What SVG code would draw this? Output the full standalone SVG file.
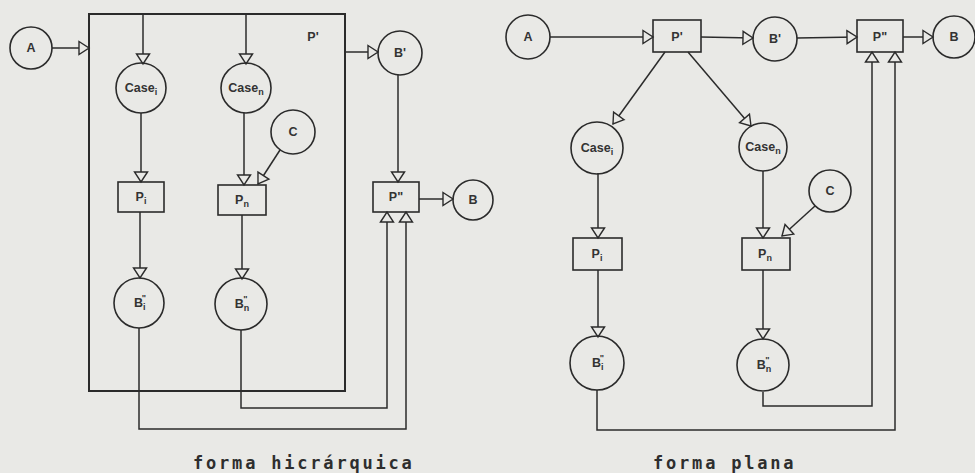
<svg xmlns="http://www.w3.org/2000/svg" width="975" height="473" viewBox="0 0 975 473">
<style>
.bg{fill:#e9e9e6}
.n{fill:none;stroke:#2b2b2b;stroke-width:1.6}
.box{fill:none;stroke:#2b2b2b;stroke-width:2}
.c{fill:none;stroke:#2b2b2b;stroke-width:1.5}
.t{font-family:"Liberation Sans",Arial,sans-serif;font-weight:bold;font-size:12.5px;fill:#333;text-anchor:middle}
.s{font-size:9px}
.cap{font-family:"DejaVu Sans Mono","Liberation Mono",monospace;font-weight:bold;font-size:17px;fill:#2e2e2e;letter-spacing:2.8px}
</style>
<defs>
<marker id="ah" viewBox="-1 -1 13 15" refX="10" refY="6.5" markerWidth="13" markerHeight="15" markerUnits="userSpaceOnUse" orient="auto" overflow="visible">
<path d="M0,0 L10,6.5 L0,13 Z" fill="#e9e9e6" stroke="#2b2b2b" stroke-width="1.4"/>
</marker>
</defs>
<rect class="bg" x="0" y="0" width="975" height="473"/>

<g id="connectors">
<!-- left diagram -->
<line class="c" x1="52" y1="48" x2="89" y2="48" marker-end="url(#ah)"/>
<line class="c" x1="143" y1="14" x2="143" y2="64" marker-end="url(#ah)"/>
<line class="c" x1="246" y1="14" x2="246" y2="64" marker-end="url(#ah)"/>
<line class="c" x1="141" y1="113" x2="141" y2="182" marker-end="url(#ah)"/>
<line class="c" x1="244" y1="113" x2="244" y2="185" marker-end="url(#ah)"/>
<line class="c" x1="280" y1="150" x2="258" y2="184" marker-end="url(#ah)"/>
<line class="c" x1="140" y1="212" x2="140" y2="278" marker-end="url(#ah)"/>
<line class="c" x1="242" y1="215" x2="242" y2="279" marker-end="url(#ah)"/>
<line class="c" x1="345" y1="52" x2="378" y2="52" marker-end="url(#ah)"/>
<line class="c" x1="398" y1="75" x2="398" y2="182" marker-end="url(#ah)"/>
<line class="c" x1="419" y1="199" x2="453" y2="199" marker-end="url(#ah)"/>
<polyline class="c" points="139,328 139,429 406,429 406,212" marker-end="url(#ah)"/>
<polyline class="c" points="241,330 241,408 387,408 387,212" marker-end="url(#ah)"/>
<!-- right diagram -->
<line class="c" x1="550" y1="37" x2="653" y2="37" marker-end="url(#ah)"/>
<line class="c" x1="701" y1="37" x2="753" y2="38" marker-end="url(#ah)"/>
<line class="c" x1="797" y1="38" x2="857" y2="37" marker-end="url(#ah)"/>
<line class="c" x1="903" y1="37" x2="933" y2="37" marker-end="url(#ah)"/>
<line class="c" x1="665" y1="52" x2="613" y2="124" marker-end="url(#ah)"/>
<line class="c" x1="688" y1="52" x2="751" y2="126" marker-end="url(#ah)"/>
<line class="c" x1="598" y1="173" x2="598" y2="238" marker-end="url(#ah)"/>
<line class="c" x1="763" y1="171" x2="763" y2="238" marker-end="url(#ah)"/>
<line class="c" x1="815" y1="206" x2="782" y2="236" marker-end="url(#ah)"/>
<line class="c" x1="598" y1="270" x2="598" y2="337" marker-end="url(#ah)"/>
<line class="c" x1="763" y1="270" x2="763" y2="339" marker-end="url(#ah)"/>
<polyline class="c" points="597,390 597,430 895,430 895,52" marker-end="url(#ah)"/>
<polyline class="c" points="763,392 763,406 872,406 872,52" marker-end="url(#ah)"/>
</g>

<!-- left diagram nodes -->
<g id="L-Pprime"><rect class="box" x="89" y="14" width="256" height="377"/><text class="t" x="313" y="41">P'</text></g>
<g id="L-A"><circle class="n" cx="31" cy="48" r="21"/><text class="t" x="31" y="52">A</text></g>
<g id="L-Case1"><circle class="n" cx="141" cy="88" r="25"/><text class="t" x="141" y="92">Case<tspan class="s" dy="3">i</tspan></text></g>
<g id="L-Casen"><circle class="n" cx="246" cy="88" r="25"/><text class="t" x="246" y="92">Case<tspan class="s" dy="3">n</tspan></text></g>
<g id="L-C"><circle class="n" cx="293" cy="132" r="22"/><text class="t" x="293" y="136">C</text></g>
<g id="L-P1"><rect class="n" x="118" y="182" width="46" height="30"/><text class="t" x="141" y="201">P<tspan class="s" dy="3">i</tspan></text></g>
<g id="L-Pn"><rect class="n" x="218" y="185" width="48" height="30"/><text class="t" x="242" y="204">P<tspan class="s" dy="3">n</tspan></text></g>
<g id="L-B1"><circle class="n" cx="139" cy="303" r="25"/><text class="t" x="140" y="307">B<tspan class="s" dy="3">i</tspan><tspan class="s" dx="-4" dy="-9">"</tspan></text></g>
<g id="L-Bn"><circle class="n" cx="241" cy="304" r="26"/><text class="t" x="242" y="308">B<tspan class="s" dy="3">n</tspan><tspan class="s" dx="-6" dy="-9">"</tspan></text></g>
<g id="L-Bprime"><circle class="n" cx="400" cy="53" r="22"/><text class="t" x="400" y="57">B'</text></g>
<g id="L-P2"><rect class="n" x="373" y="182" width="46" height="30"/><text class="t" x="396" y="201">P"</text></g>
<g id="L-B"><circle class="n" cx="473" cy="200" r="20"/><text class="t" x="473" y="204">B</text></g>

<!-- right diagram nodes -->
<g id="R-A"><circle class="n" cx="528" cy="37" r="22"/><text class="t" x="528" y="41">A</text></g>
<g id="R-Pprime"><rect class="n" x="653" y="20" width="48" height="32"/><text class="t" x="677" y="41">P'</text></g>
<g id="R-Bprime"><circle class="n" cx="775" cy="39" r="22"/><text class="t" x="775" y="43">B'</text></g>
<g id="R-P2"><rect class="n" x="857" y="20" width="46" height="32"/><text class="t" x="880" y="41">P"</text></g>
<g id="R-B"><circle class="n" cx="954" cy="37" r="21"/><text class="t" x="954" y="41">B</text></g>
<g id="R-Case1"><circle class="n" cx="597" cy="148" r="26"/><text class="t" x="597" y="152">Case<tspan class="s" dy="3">i</tspan></text></g>
<g id="R-Casen"><circle class="n" cx="763" cy="147" r="24"/><text class="t" x="763" y="151">Case<tspan class="s" dy="3">n</tspan></text></g>
<g id="R-C"><circle class="n" cx="830" cy="191" r="21"/><text class="t" x="830" y="195">C</text></g>
<g id="R-P1"><rect class="n" x="573" y="238" width="49" height="32"/><text class="t" x="597" y="258">P<tspan class="s" dy="3">i</tspan></text></g>
<g id="R-Pn"><rect class="n" x="742" y="238" width="48" height="32"/><text class="t" x="765" y="258">P<tspan class="s" dy="3">n</tspan></text></g>
<g id="R-B1"><circle class="n" cx="597" cy="363" r="27"/><text class="t" x="598" y="367">B<tspan class="s" dy="3">i</tspan><tspan class="s" dx="-4" dy="-9">"</tspan></text></g>
<g id="R-Bn"><circle class="n" cx="763" cy="365" r="26"/><text class="t" x="764" y="369">B<tspan class="s" dy="3">n</tspan><tspan class="s" dx="-6" dy="-9">"</tspan></text></g>

<g id="captions">
<text class="cap" x="193" y="469">forma hicrárquica</text>
<text class="cap" x="653" y="469">forma plana</text>
</g>
</svg>
